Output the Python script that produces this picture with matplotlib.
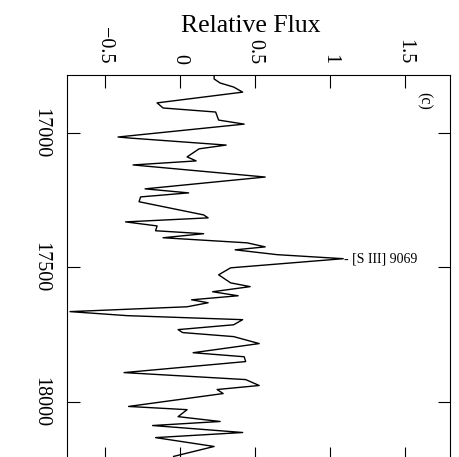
import matplotlib
matplotlib.use("Agg")
import matplotlib.pyplot as plt

plt.rcParams['font.family'] = ['Liberation Serif', 'DejaVu Serif']

# spectrum: wavelength (A) and relative flux
wavelength = [16786, 16799, 16814, 16829, 16848, 16888, 16907, 16922, 16952, 16967,
              17015, 17019, 17045, 17059, 17089, 17104, 17119, 17164, 17208, 17223,
              17238, 17256, 17305, 17316, 17331, 17346, 17364, 17375, 17390, 17409,
              17424, 17435, 17453, 17468, 17502, 17528, 17558, 17572, 17591, 17606,
              17621, 17632, 17647, 17665, 17680, 17695, 17714, 17732, 17743, 17758,
              17784, 17818, 17833, 17851, 17892, 17918, 17940, 17955, 17970, 18018,
              18030, 18056, 18074, 18089, 18115, 18134, 18167, 18204]
flux = [0.23, 0.23, 0.27, 0.36, 0.42, -0.15, -0.11, 0.24, 0.26, 0.43,
        -0.41, -0.33, 0.31, 0.13, 0.05, 0.11, -0.31, 0.57, -0.23, 0.06,
        -0.26, -0.27, 0.16, 0.19, -0.36, -0.15, -0.16, 0.16, -0.11, 0.45,
        0.57, 0.37, 0.65, 1.09, 0.34, 0.26, 0.34, 0.47, 0.22, 0.39,
        0.08, 0.19, 0.05, -0.73, -0.35, 0.42, 0.36, -0.01, 0.02, 0.36,
        0.53, 0.09, 0.43, 0.44, -0.37, 0.44, 0.53, 0.25, 0.29, -0.34,
        0.05, -0.01, 0.27, -0.18, 0.42, -0.16, 0.23, -0.04]

line_label = "- [S III] 9069"
line_wl = 17468
line_flux = 1.09

flux_ticks = [-0.5, 0, 0.5, 1, 1.5]
flux_ticklabels = ["\u22120.5", "0", "0.5", "1", "1.5"]
wl_ticks = [17000, 17500, 18000]

fig = plt.figure(figsize=(4.59, 4.57), dpi=100)
ax = fig.add_axes([0.146, -0.004, 0.834, 0.840])

# rotated layout: flux runs across, wavelength runs down
ax.plot(flux, wavelength, color='black', lw=1.0)
ax.set_xlim(-0.75, 1.8)
ax.set_ylim(18213, 16784)

ax.set_xticks(flux_ticks)
ax.set_xticklabels(flux_ticklabels, rotation=-90)
ax.set_yticks(wl_ticks)
ax.set_yticklabels([str(t) for t in wl_ticks], rotation=-90, va='center')

ax.tick_params(direction='in', length=9, width=0.8, labelsize=14.5,
               top=True, bottom=True, left=True, right=True,
               labeltop=True, labelbottom=False, labelleft=True, labelright=False)
ax.tick_params(axis='x', pad=8)
ax.tick_params(axis='y', pad=12)

ax.xaxis.set_label_position('top')
ax.set_xlabel('Relative Flux', fontsize=18.5)
ax.xaxis.set_label_coords(0.48, 1.112)

for s in ax.spines.values():
    s.set_linewidth(0.8)

ax.text(line_flux + 0.005, line_wl, line_label, fontsize=10, ha='left', va='center')
ax.text(0.932, 0.932, '(c)', transform=ax.transAxes, fontsize=11.5,
        rotation=-90, ha='center', va='center')

fig.savefig('out.png', dpi=100)
